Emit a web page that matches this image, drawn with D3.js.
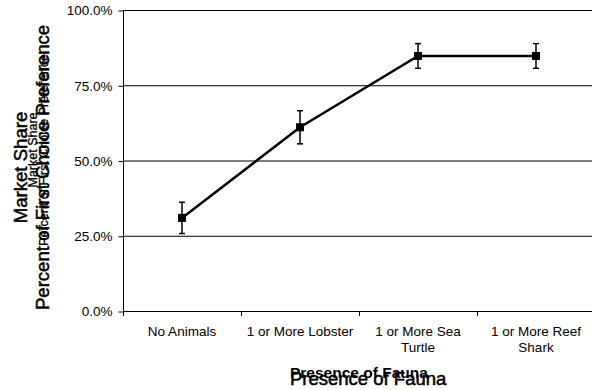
<!DOCTYPE html>
<html lang="en">
<head>
<meta charset="utf-8">
<title>Market Share by Presence of Fauna</title>
<script src="https://cdn.jsdelivr.net/npm/d3@7"></script>
<style>
  body { margin: 0; background: #fff; }
  text { font-family: "Liberation Sans", Arial, sans-serif; fill: #000; }
</style>
</head>
<body>
<script>
// data
var categories = ["No Animals", "1 or More Lobster", "1 or More Sea Turtle", "1 or More Reef Shark"];
var categoryLines = [["No Animals"], ["1 or More Lobster"], ["1 or More Sea", "Turtle"], ["1 or More Reef", "Shark"]];
var shareValues = [0.311, 0.612, 0.849, 0.849];
var errorValues = [0.052, 0.055, 0.041, 0.041];
var yTicks = [0, 0.25, 0.5, 0.75, 1];

var w = 592, h = 390;
var plotLeft = 123, plotTop = 10, plotBottom = 311, plotRight = 595;

var svg = d3.select("body").append("svg")
  .attr("width", w)
  .attr("height", h);

var x = d3.scaleBand()
  .domain(categories)
  .range([plotLeft, plotRight]);

var y = d3.scaleLinear()
  .domain([0, 1])
  .range([plotBottom + 0.5, plotTop + 0.5]);

// gridlines
svg.append("g")
  .selectAll("line")
  .data(yTicks.slice(1))
  .enter()
  .append("line")
  .attr("x1", plotLeft)
  .attr("x2", w)
  .attr("y1", function(d) { return y(d); })
  .attr("y2", function(d) { return y(d); })
  .attr("stroke", "#000")
  .attr("stroke-width", 1);

// y axis
var yAxis = d3.axisLeft(y)
  .tickValues(yTicks)
  .tickSize(5)
  .tickPadding(6)
  .tickFormat(d3.format(".1%"));

var yg = svg.append("g")
  .attr("transform", "translate(" + (plotLeft + 0.5) + ",0)")
  .call(yAxis);
yg.select(".domain").attr("d", "M0," + (plotTop + 0.5) + "V" + (plotBottom + 5));
yg.selectAll(".tick line").attr("stroke", "#000");
yg.selectAll(".tick text")
  .attr("font-size", "13.5px")
  .attr("font-family", "Liberation Sans, Arial, sans-serif")
  .attr("fill", "#222");

// x axis
svg.append("line")
  .attr("x1", plotLeft).attr("x2", w)
  .attr("y1", plotBottom + 0.5).attr("y2", plotBottom + 0.5)
  .attr("stroke", "#000");

svg.append("g")
  .selectAll("line")
  .data(categories)
  .enter()
  .append("line")
  .attr("x1", function(d) { return Math.round(x(d)) + 0.5; })
  .attr("x2", function(d) { return Math.round(x(d)) + 0.5; })
  .attr("y1", plotBottom)
  .attr("y2", plotBottom + 5)
  .attr("stroke", "#000");

var labels = svg.append("g")
  .selectAll("text")
  .data(categories)
  .enter()
  .append("text")
  .attr("text-anchor", "middle")
  .attr("font-size", "13.5px")
  .attr("fill", "#222");

labels.each(function(d, i) {
  var t = d3.select(this);
  categoryLines[i].forEach(function(line, j) {
    t.append("tspan")
      .attr("x", x(d) + x.bandwidth() / 2)
      .attr("y", 336 + j * 16)
      .text(line);
  });
});

// error bars
var errs = svg.append("g")
  .selectAll("g")
  .data(categories)
  .enter()
  .append("g")
  .attr("stroke", "#000")
  .attr("stroke-width", 1.5);

errs.append("line")
  .attr("x1", function(d) { return x(d) + x.bandwidth() / 2; })
  .attr("x2", function(d) { return x(d) + x.bandwidth() / 2; })
  .attr("y1", function(d, i) { return y(shareValues[i] + errorValues[i]); })
  .attr("y2", function(d, i) { return y(shareValues[i] - errorValues[i]); });

errs.append("line")
  .attr("x1", function(d) { return x(d) + x.bandwidth() / 2 - 3; })
  .attr("x2", function(d) { return x(d) + x.bandwidth() / 2 + 3; })
  .attr("y1", function(d, i) { return y(shareValues[i] + errorValues[i]); })
  .attr("y2", function(d, i) { return y(shareValues[i] + errorValues[i]); });

errs.append("line")
  .attr("x1", function(d) { return x(d) + x.bandwidth() / 2 - 3; })
  .attr("x2", function(d) { return x(d) + x.bandwidth() / 2 + 3; })
  .attr("y1", function(d, i) { return y(shareValues[i] - errorValues[i]); })
  .attr("y2", function(d, i) { return y(shareValues[i] - errorValues[i]); });

// line
var line = d3.line()
  .x(function(d, i) { return x(categories[i]) + x.bandwidth() / 2; })
  .y(function(d) { return y(d); });

svg.append("path")
  .datum(shareValues)
  .attr("d", line)
  .attr("fill", "none")
  .attr("stroke", "#000")
  .attr("stroke-width", 2.5);

// markers
svg.append("g")
  .selectAll("rect")
  .data(shareValues)
  .enter()
  .append("rect")
  .attr("x", function(d, i) { return x(categories[i]) + x.bandwidth() / 2 - 4; })
  .attr("y", function(d) { return y(d) - 4; })
  .attr("width", 8)
  .attr("height", 8)
  .attr("fill", "#000");

// axis titles (two overlapping copies, as in the original)
svg.append("text")
  .attr("x", 290).attr("y", 385)
  .attr("font-size", "18.5px")
  .attr("stroke", "#000")
  .attr("stroke-width", 0.5)
  .text("Presence of Fauna");

svg.append("text")
  .attr("x", 290).attr("y", 378)
  .attr("font-size", "15.5px")
  .attr("font-weight", "bold")
  .text("Presence of Fauna");

var yt1 = svg.append("text")
  .attr("transform", "translate(27,167.5) rotate(-90)")
  .attr("text-anchor", "middle")
  .attr("font-size", "18.6px")
  .attr("stroke", "#000")
  .attr("stroke-width", 0.5);
yt1.append("tspan").attr("x", 0).attr("y", 0).text("Market Share");
yt1.append("tspan").attr("x", 0).attr("y", 22).text("Percent of First Choice Preference");

var yt2 = svg.append("text")
  .attr("transform", "translate(37,150) rotate(-90)")
  .attr("text-anchor", "middle")
  .attr("font-size", "12.5px")
  .attr("stroke", "#000")
  .attr("stroke-width", 0.3);
yt2.append("tspan").attr("x", 0).attr("y", 0).text("Market Share");
yt2.append("tspan").attr("x", 0).attr("y", 11).text("Percent of First Choice Preference");
</script>
</body>
</html>
